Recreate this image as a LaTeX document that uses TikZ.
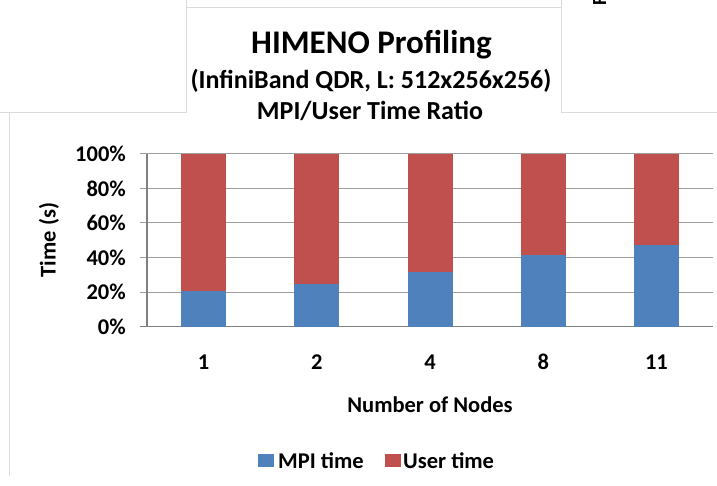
\documentclass[tikz,border=0pt]{standalone}
\usepackage{fontspec}
\setmainfont{Carlito}
\usepackage{tikz}
\usepackage{xcolor}
\definecolor{mpiblue}{HTML}{4F81BD}
\definecolor{userred}{HTML}{C0504D}

\begin{document}
\begin{tikzpicture}[
	x=1bp, y=-1bp,
	line cap=butt, line join=miter,
	frame/.style={black!14, line width=0.8bp},
	grid/.style={black!38, line width=1bp},
	axis/.style={black!50, line width=1.3bp},
	label/.style={inner sep=0pt, font=\fontsize{22.5bp}{27bp}\selectfont\bfseries},
	subtitle/.style={label, anchor=base, font=\fontsize{26bp}{31bp}\selectfont\bfseries}
]
	\useasboundingbox (0,0) rectangle (717,486);
	\def\xzero{147}
	\def\xend{713}
	\def\yzero{326.5}
	\def\ystep{34.5}
	\def\cat{113.2}

	% frame of the chart area and of the title box
	\draw[frame] (186,0) -- (186,112) -- (0,112);
	\draw[frame] (186,7) -- (561,7);
	\draw[frame] (561,0) -- (561,112) -- (717,112);
	\draw[frame] (9,112) -- (9,476);
	\node[rotate=90, anchor=north west, inner sep=0pt, font=\fontsize{20bp}{24bp}\selectfont\bfseries] (cut) at (593,5.5) {F};

	% title
	\node[label, anchor=base, font=\fontsize{33bp}{40bp}\selectfont\bfseries] (title) at (371.5,54) {HIMENO Profiling};
	\node[subtitle] (network) at (371,89) {(InfiniBand QDR, L: 512x256x256)};
	\node[subtitle] (ratio) at (370,120) {MPI/User Time Ratio};

	% grid and y ticks
	\foreach \i [evaluate={\y=\yzero-\i*\ystep; \p=int(\i*20);}] in {0,...,5} {
		\draw[grid] (139.5,\y) -- (\xend,\y);
		\node[label, anchor=base east] (ytick\i) at (126,\y+7.6) {\p\%};
	}
	\draw[axis] (\xzero,\yzero-5*\ystep) -- (\xzero,\yzero);
	\draw[axis] (139.5,\yzero) -- (\xend,\yzero);

	% stacked bars
	\foreach \n/\mpi [count=\i, evaluate={\xc=\xzero+\cat*(\i-0.5); \ym=\yzero-\mpi*5*\ystep/100;}] in {1/20.5, 2/24.8, 4/31.6, 8/41.7, 11/47.5} {
		\fill[mpiblue] (\xc-22.5,\yzero) rectangle (\xc+22.5,\ym);
		\fill[userred] (\xc-22.5,\ym) rectangle (\xc+22.5,\yzero-5*\ystep);
		\node[label, anchor=base] (xtick\i) at (\xc,369) {\n};
	}

	% axis titles
	\node[label, anchor=base] (xtitle) at (430,412) {Number of Nodes};
	\node[label, anchor=base, rotate=90] (ytitle) at (55.5,240) {Time (s)};

	% legend
	\fill[mpiblue] (258,454) rectangle (274,467);
	\node[label, anchor=base west] (legmpi) at (278,468) {MPI time};
	\fill[userred] (385,454) rectangle (401,467);
	\node[label, anchor=base west] (leguser) at (403,468) {User time};
\end{tikzpicture}
\end{document}
